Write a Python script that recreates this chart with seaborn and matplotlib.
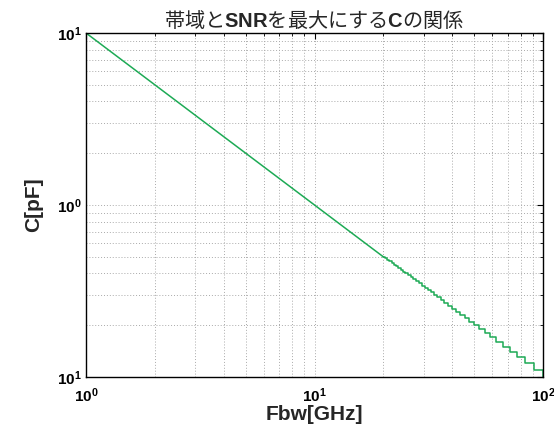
import matplotlib
matplotlib.use('Agg')
import matplotlib.pyplot as plt
import seaborn as sns
import pandas as pd
from matplotlib.ticker import LogLocator, NullFormatter

# ---- data ----
smooth_fbw = [1.0, 2.0, 5.0, 10.0, 20.0]
smooth_c = [10.0, 5.0, 2.0, 1.0, 0.50]

step_fbw = [20.00, 20.41, 20.83, 21.28, 21.74, 22.22, 22.73, 23.26, 23.81, 24.39,
            25.00, 25.64, 26.32, 27.03, 27.78, 28.57, 29.41, 30.30, 31.25, 32.26,
            33.33, 34.48, 35.71, 37.04, 38.46, 40.00, 41.67, 43.48, 45.45, 47.62,
            50.00, 52.63, 55.56, 58.82, 62.50, 66.67, 71.43, 76.92, 83.33, 90.91,
            100.00]
step_c = [0.50, 0.49, 0.48, 0.47, 0.46, 0.45, 0.44, 0.43, 0.42, 0.41,
          0.40, 0.39, 0.38, 0.37, 0.36, 0.35, 0.34, 0.33, 0.32, 0.31,
          0.30, 0.29, 0.28, 0.27, 0.26, 0.25, 0.24, 0.23, 0.22, 0.21,
          0.20, 0.19, 0.18, 0.17, 0.16, 0.15, 0.14, 0.13, 0.12, 0.11,
          0.10]

x_ticks = [1, 10, 100]
x_tick_labels = [r'$\mathbf{10^{0}}$', r'$\mathbf{10^{1}}$', r'$\mathbf{10^{2}}$']
y_ticks = [0.1, 1, 10]
y_tick_labels = [r'$\mathbf{10^{1}}$', r'$\mathbf{10^{0}}$', r'$\mathbf{10^{1}}$']

title_text = r'帯域と$\mathbf{SNR}$を最大にする$\mathbf{C}$の関係'
x_label = 'Fbw[GHz]'
y_label = 'C[pF]'

line_color = '#1daa55'

# ---- style ----
sns.set_theme(style='white')
plt.rcParams['font.family'] = ['Liberation Sans', 'Noto Sans CJK JP']
plt.rcParams['mathtext.fontset'] = 'custom'
plt.rcParams['mathtext.bf'] = 'Liberation Sans:bold'
plt.rcParams['mathtext.rm'] = 'Liberation Sans'
plt.rcParams['mathtext.it'] = 'Liberation Sans:italic'

fig = plt.figure(figsize=(5.54, 4.26), dpi=100)
ax = fig.add_axes([86 / 554, 1 - 377 / 426, (543 - 86) / 554, (377 - 33) / 426])

df_smooth = pd.DataFrame({'Fbw': smooth_fbw, 'C': smooth_c})
df_step = pd.DataFrame({'Fbw': step_fbw, 'C': step_c})

sns.lineplot(data=df_smooth, x='Fbw', y='C', ax=ax, color=line_color,
             linewidth=1.1, estimator=None, sort=False)
sns.lineplot(data=df_step, x='Fbw', y='C', ax=ax, color=line_color,
             linewidth=1.1, estimator=None, sort=False, drawstyle='steps-post')

ax.set_xscale('log')
ax.set_yscale('log')
ax.set_xlim(1, 100)
ax.set_ylim(0.1, 10)

ax.set_xticks(x_ticks, labels=x_tick_labels)
ax.set_yticks(y_ticks, labels=y_tick_labels)
ax.xaxis.set_minor_locator(LogLocator(base=10, subs=range(2, 10)))
ax.yaxis.set_minor_locator(LogLocator(base=10, subs=range(2, 10)))
ax.xaxis.set_minor_formatter(NullFormatter())
ax.yaxis.set_minor_formatter(NullFormatter())

ax.grid(True, which='both', linestyle=(0, (1, 2)), color='#aaaaaa', linewidth=0.7)
ax.set_axisbelow(True)

ax.tick_params(which='both', direction='in', top=True, right=True, colors='black',
               labelsize=11)
ax.tick_params(which='major', length=4, width=0.8)
ax.tick_params(which='minor', length=2, width=0.6)
ax.tick_params(axis='x', pad=7)
ax.tick_params(axis='y', pad=3)

for s in ax.spines.values():
    s.set_color('black')
    s.set_linewidth(1.0)
    s.set_visible(True)

ax.set_xlabel(x_label, fontsize=15, fontweight='bold', labelpad=0)
ax.set_ylabel(y_label, fontsize=15, fontweight='bold', labelpad=10)
ax.set_title(title_text, fontsize=14.5, family='Noto Sans CJK JP', pad=4)

fig.savefig('out.png', dpi=100, facecolor='white')
